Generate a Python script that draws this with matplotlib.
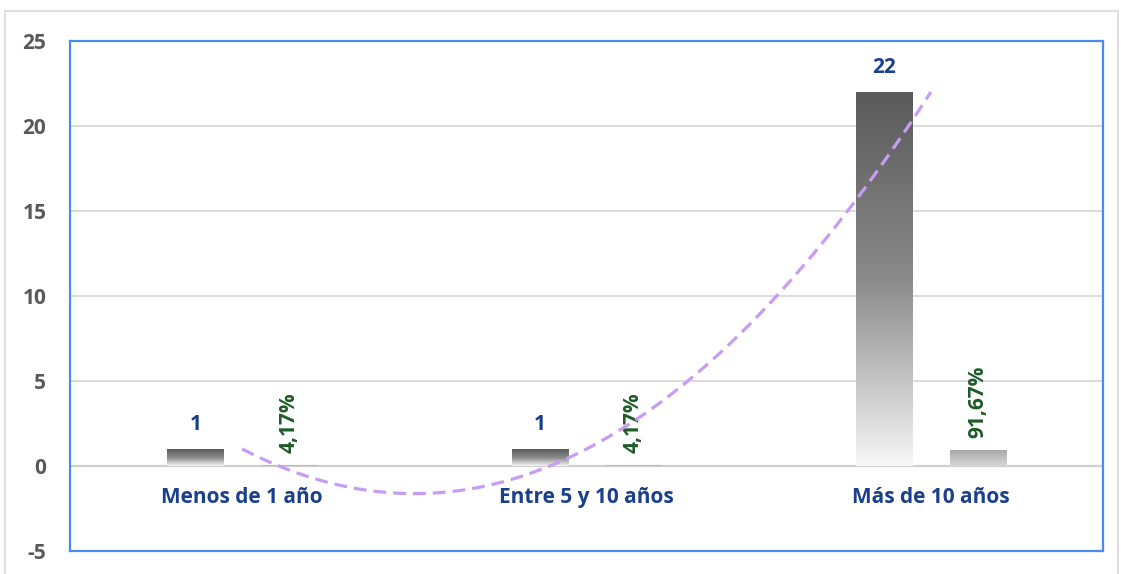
import numpy as np
import matplotlib
matplotlib.use("Agg")
import matplotlib.pyplot as plt
from matplotlib.colors import LinearSegmentedColormap
from matplotlib.patches import Rectangle

plt.rcParams['font.family'] = ['Open Sans', 'DejaVu Sans']

# data
categories = ["Menos de 1 año", "Entre 5 y 10 años", "Más de 10 años"]
counts = [1, 1, 22]
shares = [0.0417, 0.0417, 0.9167]
share_labels = ["4,17%", "4,17%", "91,67%"]
yticks = [-5, 0, 5, 10, 15, 20, 25]

BLUE = "#1a3f8c"
GREEN = "#1e5b28"
W = 0.163
OFF = 0.136
FS = 15

fig = plt.figure(figsize=(11.21, 5.74), dpi=100)
# outer light frame
fig.patches.append(Rectangle((5 / 1121, -0.05), 1113 / 1121, 1 - 11 / 574 + 0.05,
                             transform=fig.transFigure, fill=False,
                             edgecolor="#d9d9d9", lw=1.2))
ax = fig.add_axes([70 / 1121, 23 / 574, 1033 / 1121, 510 / 574])

x = np.arange(1, len(categories) + 1)

cm_count = LinearSegmentedColormap.from_list(
    "cnt", [(0, "#f7f7f7"), (0.22, "#c6c6c6"), (0.5, "#8a8a8a"), (1, "#5a5a5a")])
cm_share = LinearSegmentedColormap.from_list("shr", ["#d6d6d6", "#a9a9a9"])
grad = np.linspace(0, 1, 256).reshape(-1, 1)

for xi, c, s in zip(x, counts, shares):
    ax.imshow(grad, extent=[xi - OFF - W / 2, xi - OFF + W / 2, 0, c],
              origin="lower", aspect="auto", cmap=cm_count, zorder=2)
    ax.imshow(grad, extent=[xi + OFF - W / 2, xi + OFF + W / 2, 0, s],
              origin="lower", aspect="auto", cmap=cm_share, zorder=2)

for xi, c, s, lab in zip(x, counts, shares, share_labels):
    ax.annotate(str(c), (xi - OFF, c), xytext=(0, 10), textcoords="offset points",
                ha="center", va="bottom", color=BLUE, fontsize=FS, fontweight="bold")
    ax.annotate(lab, (xi + OFF, s), xytext=(0, 9), textcoords="offset points",
                ha="center", va="bottom", rotation=90, color=GREEN,
                fontsize=FS, fontweight="bold")
    ax.text(xi, -1.85, categories[xi - 1], ha="center", va="center",
            color=BLUE, fontsize=FS, fontweight="bold")

# polynomial (order 2) trendline of the counts
coef = np.polyfit(x, counts, 2)
xt = np.linspace(x[0], x[-1], 200)
ax.plot(xt, np.polyval(coef, xt), color="#c79cf5", lw=2.3, ls=(0, (4, 2.2)), zorder=3)

ax.set_xlim(0.5, 3.5)
ax.set_ylim(-5, 25)
ax.set_yticks(yticks)
ax.set_yticklabels([str(t) for t in yticks], color="#595959", fontsize=FS,
                   fontweight="bold")
ax.set_xticks([])
ax.tick_params(axis="y", length=0, pad=17)
for t in yticks[1:-1]:
    ax.axhline(t, color="#d9d9d9" if t else "#d0d0d0", lw=1.3 if t else 1.6, zorder=1)
for sp in ax.spines.values():
    sp.set_color("#4a8bef")
    sp.set_linewidth(1.6)

fig.savefig("out.png", dpi=100)
